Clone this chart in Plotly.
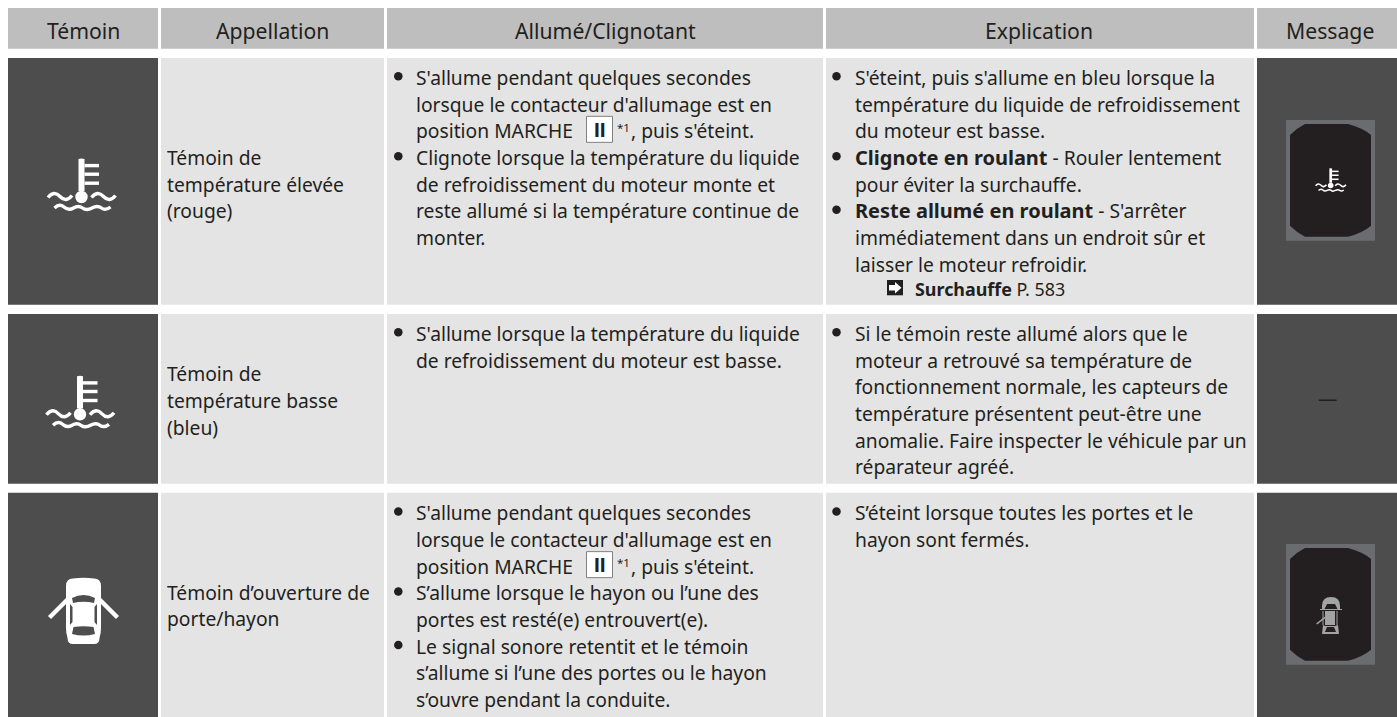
import plotly.graph_objects as go

# ---------- content ----------
HEADERS = ["Témoin", "Appellation", "Allumé/Clignotant", "Explication", "Message"]
NAMES_ROW1 = ["Témoin de", "température élevée", "(rouge)"]
NAMES_ROW2 = ["Témoin de", "température basse", "(bleu)"]
NAMES_ROW3 = ["Témoin d’ouverture de", "porte/hayon"]
ALLUME_ROW1 = ["S'allume pendant quelques secondes", "lorsque le contacteur d'allumage est en",
               "position MARCHE", "Clignote lorsque la température du liquide",
               "de refroidissement du moteur monte et",
               "reste allumé si la température continue de", "monter."]
ALLUME_ROW2 = ["S'allume lorsque la température du liquide", "de refroidissement du moteur est basse."]
ALLUME_ROW3 = ["S'allume pendant quelques secondes", "lorsque le contacteur d'allumage est en",
               "position MARCHE", "S’allume lorsque le hayon ou l’une des",
               "portes est resté(e) entrouvert(e).", "Le signal sonore retentit et le témoin",
               "s’allume si l’une des portes ou le hayon", "s’ouvre pendant la conduite."]
EXPLIC_ROW1 = ["S'éteint, puis s'allume en bleu lorsque la", "température du liquide de refroidissement",
               "du moteur est basse.", "<b>Clignote en roulant</b> - Rouler lentement",
               "pour éviter la surchauffe.", "<b>Reste allumé en roulant</b> - S'arrêter",
               "immédiatement dans un endroit sûr et", "laisser le moteur refroidir."]
EXPLIC_ROW2 = ["Si le témoin reste allumé alors que le", "moteur a retrouvé sa température de",
               "fonctionnement normale, les capteurs de", "température présentent peut-être une",
               "anomalie. Faire inspecter le véhicule par un", "réparateur agréé."]
EXPLIC_ROW3 = ["S’éteint lorsque toutes les portes et le", "hayon sont fermés."]
BULLET_LINES = {"a1": [0, 3], "a2": [0], "a3": [0, 3, 5], "e1": [0, 3, 5], "e2": [0], "e3": [0]}
KEY_LABEL = "II"
NOTE_MARK = "*1"
AFTER_KEY = ", puis s'éteint."
XREF_BOLD = "Surchauffe"
XREF_PAGE = "P. 583"
DASH = "—"

# ---------- layout & style ----------
W, H = 1397, 717
COLS = [(8, 158), (161, 384), (387, 823), (826, 1254), (1257, 1397)]
HEAD = (8, 48.7)
ROWS = [(58, 304.7), (314, 483.7), (492.8, 717)]
C_HEAD, C_CELL, C_DARK, C_TEXT = "#bebebe", "#e4e4e4", "#4d4d4d", "#231f20"
C_FRAME, C_SCREEN, C_MINI = "#6b6c70", "#231f20", "#a3a3a3"
FONT = "Noto Sans"
FS = 19.25
FS_HEAD = 21.2
FS_BOLD = 20
LH = 26.67

shapes, anns = [], []


def rect(x0, x1, y0, y1, color, line=None, layer="below"):
    shapes.append(dict(type="rect", x0=x0, x1=x1, y0=y0, y1=y1, fillcolor=color, layer=layer,
                       line=dict(width=line[1], color=line[0]) if line else dict(width=0)))


def path(d, fill=None, stroke=None, width=0):
    shapes.append(dict(type="path", path=d, fillcolor=fill or "rgba(0,0,0,0)", layer="above",
                       line=dict(color=stroke or "rgba(0,0,0,0)", width=width)))


def text(x, baseline, s, size=FS, anchor="left", color=C_TEXT, family=FONT):
    anns.append(dict(x=x, y=baseline - 0.355 * size, text=s, showarrow=False, xanchor=anchor,
                     yanchor="middle", xref="x", yref="y", borderpad=0, borderwidth=0,
                     font=dict(family=family, size=size, color=color)))


def thermo(cx, cy, k=1.0, color="white"):
    def X(v): return round(cx + v * k, 2)
    def Y(v): return round(cy + v * k, 2)
    w = 3.4 * k
    path(f"M{X(-3)},{Y(-38)} Q{X(0)},{Y(-39)} {X(3)},{Y(-38)} L{X(3)},{Y(-6)} L{X(-3)},{Y(-6)} Z", fill=color)
    shapes.append(dict(type="circle", x0=X(-6.2), x1=X(6.2), y0=Y(-6.2), y1=Y(6.2),
                       fillcolor=color, line=dict(width=0), layer="above"))
    for t in (-31.4, -22.8, -13.8):
        path(f"M{X(3)},{Y(t)} L{X(17.5)},{Y(t)}", stroke=color, width=w)
    for x0 in (-33.5, 10):
        path(f"M{X(x0)},{Y(0.5)} Q{X(x0+6)},{Y(-7)} {X(x0+12)},{Y(-0.5)} T{X(x0+24)},{Y(-1.5)}", stroke=color, width=w)
    path(f"M{X(-27)},{Y(11)} Q{X(-22)},{Y(6)} {X(-17.5)},{Y(10)} T{X(-8)},{Y(11)} T{X(1)},{Y(11)} "
         f"T{X(10.5)},{Y(11)} T{X(20)},{Y(11)} T{X(29)},{Y(10)}", stroke=color, width=w)


def big_car():
    path("M66,586 Q66,579 73,578.6 Q83.5,577 94,578.6 Q101,579 101,586 L101,628 Q101,633 99.5,638 "
         "Q99.5,644 94,644 L73,644 Q67.5,644 67.5,638 Q66,633 66,628 Z", fill="white")
    path("M72,598 Q83.5,592 95,598 L94,603 Q83.5,600.5 73,603 Z", fill=C_DARK)
    path("M73.5,627 Q83.5,625.5 93.5,627 L95,634 Q83.5,637 72,634 Z", fill=C_DARK)
    path("M70,604 L72.5,607 L72.5,622 L70,625 Z", fill=C_DARK)
    path("M97,604 L94.5,607 L94.5,622 L97,625 Z", fill=C_DARK)
    path("M49.5,617.5 L68,599", stroke="white", width=4.5)
    path("M117.5,617.5 L99,599", stroke="white", width=4.5)


def mini_car():
    c = C_MINI
    path("M1322,606 Q1322,597 1331,597 Q1340,597 1340,606 L1340,610 L1338,610 L1335,604 L1327,604 L1324,610 L1322,610 Z", fill=c)
    path("M1325,611 L1335,611 L1335,625 L1325,625 Z", fill=c)
    path("M1322,634 L1323,625 L1325,626 L1335,626 L1338,625 L1339,634 Z", fill=c)
    path("M1325,632 L1327,627 L1334,627 L1336,632 Z", fill=C_SCREEN)
    path("M1323,611 L1323,625", stroke=c, width=1)
    path("M1337,611 L1337,625", stroke=c, width=1)
    path("M1316.7,624 L1325,617.3", stroke=c, width=1.6)
    path("M1320,609.5 L1342,609.5", stroke=c, width=1)


def screen(y0, y1):
    rect(1286, 1375, y0, y1, C_FRAME, layer="above")
    a, b, c, d = 1290, 1371, y0 + 4, y1 - 4
    path(f"M{a},{c+11} Q{a+7},{c+4} {a+15},{c} L{b-23},{c} Q{b-8},{c+4} {b},{c+11} L{b},{d-11} "
         f"Q{b-8},{d-4} {b-23},{d} L{a+15},{d} Q{a+7},{d-4} {a},{d-11} Z", fill=C_SCREEN)


# header + body cells
for i, (a, b) in enumerate(COLS):
    rect(a, b, *HEAD, C_HEAD)
    for r in ROWS:
        rect(a, b, *r, C_DARK if i in (0, 4) else C_CELL)

for x, s in zip([83, 272, 605, 1039, 1330], HEADERS):
    text(x, 38.5, s, size=FS_HEAD, anchor="center")


def lines(x, base, items):
    for n, s in enumerate(items):
        s = s.replace("<b>", f'<span style="font-size:{FS_BOLD}px"><b>').replace("</b>", "</b></span>")
        text(x, base + n * LH, s)


lines(167, 164.2, NAMES_ROW1)
lines(167, 380.5, NAMES_ROW2)
lines(167, 599, NAMES_ROW3)
B1, B2, B3 = 84.3, 340.3, 519.6
lines(416, B1, ALLUME_ROW1)
lines(416, B2, ALLUME_ROW2)
lines(416, B3, ALLUME_ROW3)
lines(855, B1, EXPLIC_ROW1)
lines(855, B2, EXPLIC_ROW2)
lines(855, B3, EXPLIC_ROW3)

# ignition key box + note
for base in (B1 + 2 * LH, B3 + 2 * LH):
    rect(586.5, 612.5, base - 21.3, base + 4.7, "white", line=("#808080", 1), layer="above")
    text(599.5, base - 1, f"<b>{KEY_LABEL}</b>", size=21, anchor="center", family="Liberation Sans")
    text(616.5, base - 6, NOTE_MARK, size=11.5)
    text(630.5, base, AFTER_KEY)

# cross-reference
path("M887,280 L903,280 L903,295.3 L887,295.3 Z", fill=C_TEXT)
path("M889,285 L895,285 L895,282 L901.5,287.7 L895,293.4 L895,290.5 L889,290.5 Z", fill="white")
text(915, 295, f"<b>{XREF_BOLD}</b> {XREF_PAGE}", size=17.9)

# icons
thermo(81.5, 197)
thermo(80, 414.3)
big_car()
screen(120, 240.7)
thermo(1330.7, 185.5, 0.45)
text(1327, 405, DASH, size=FS, anchor="center")
screen(544, 664.7)
mini_car()

bx, by = [], []
for key, x, base in [("a1", 398.3, B1), ("a2", 398.3, B2), ("a3", 398.3, B3),
                     ("e1", 836.5, B1), ("e2", 836.5, B2), ("e3", 836.5, B3)]:
    for n in BULLET_LINES[key]:
        bx.append(x)
        by.append(base + n * LH - 8)

fig = go.Figure(go.Scatter(x=bx, y=by, mode="markers", hoverinfo="skip", showlegend=False,
                           marker=dict(size=8.5, color=C_TEXT, line=dict(width=0))))
fig.update_layout(width=W, height=H, margin=dict(l=0, r=0, t=0, b=0), autosize=False,
                  paper_bgcolor="white", plot_bgcolor="white", showlegend=False,
                  shapes=shapes, annotations=anns,
                  xaxis=dict(range=[0, W], visible=False, fixedrange=True),
                  yaxis=dict(range=[H, 0], visible=False, fixedrange=True))
fig.write_html("out.html", config=dict(displayModeBar=False, staticPlot=True),
               post_script="document.body.style.margin='0';document.body.style.overflow='hidden';")
